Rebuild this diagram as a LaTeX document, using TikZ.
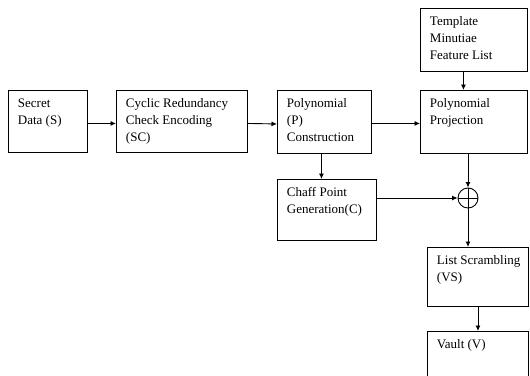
\documentclass[tikz,border=0pt]{standalone}
\usepackage{fontspec}
\setmainfont{Liberation Serif}
\usetikzlibrary{arrows.meta}
\begin{document}
\begin{tikzpicture}[x=1pt,y=-1pt,
  box/.style={draw,line width=0.9pt,inner sep=0pt,anchor=north west},
  arr/.style={line width=0.9pt,-{Latex[length=5.5pt,width=5pt]}},
  plain/.style={line width=0.9pt}]
\useasboundingbox (0,0) rectangle (530,375);
\clip (0,0) rectangle (530,375);
\newcommand{\boxtext}[3]{\parbox[t][#2pt][t]{#1pt}{\vspace{5pt}\hspace*{9.5pt}\fontsize{13}{17}\selectfont\begin{tabular}[t]{@{}l@{}}#3\end{tabular}}}
\node[box] (sec) at (8,90) {\boxtext{79}{62}{Secret\\Data (S)}};
\node[box] (crc) at (116,90) {\boxtext{131}{62}{Cyclic Redundancy\\Check Encoding\\(SC)}};
\node[box] (poly) at (277,90) {\boxtext{94}{63}{Polynomial\\(P)\\Construction}};
\node[box] (tmpl) at (420,8) {\boxtext{107}{63}{Template\\Minutiae\\Feature List}};
\node[box] (proj) at (420,90) {\boxtext{107}{63}{Polynomial\\Projection}};
\node[box] (chaff) at (277,179) {\boxtext{99}{61}{Chaff Point\\Generation(C)}};
\node[box] (list) at (427,247) {\boxtext{101}{59}{List Scrambling\\(VS)}};
\node[box] (vault) at (427,331) {\boxtext{101}{70}{Vault (V)}};
\node[draw,circle,line width=0.9pt,minimum size=20pt,inner sep=0pt] (oplus) at (468,198) {};
\draw[plain] (oplus.north) -- (oplus.south) (oplus.west) -- (oplus.east);
\draw[arr] ([yshift=-2pt]sec.east) -- ([yshift=-2pt]crc.west);
\draw[arr] ([yshift=-2pt]crc.east) -- ([yshift=-2pt]poly.west);
\draw[arr] ([yshift=-1.5pt]poly.east) -- ([yshift=-1.5pt]proj.west);
\draw[arr] ([xshift=-10.5pt]tmpl.south) -- ([xshift=-10.5pt]proj.north);
\draw[arr] ([xshift=-3pt]poly.south) -- ([xshift=-3pt]poly.south |- chaff.north);
\draw[arr] (proj.south -| oplus) -- (oplus.north);
\draw[arr] (chaff.east |- oplus) -- (oplus.west);
\draw[arr] (oplus.south) -- (oplus |- list.north);
\draw[arr] (list) -- (vault);
\end{tikzpicture}
\end{document}
